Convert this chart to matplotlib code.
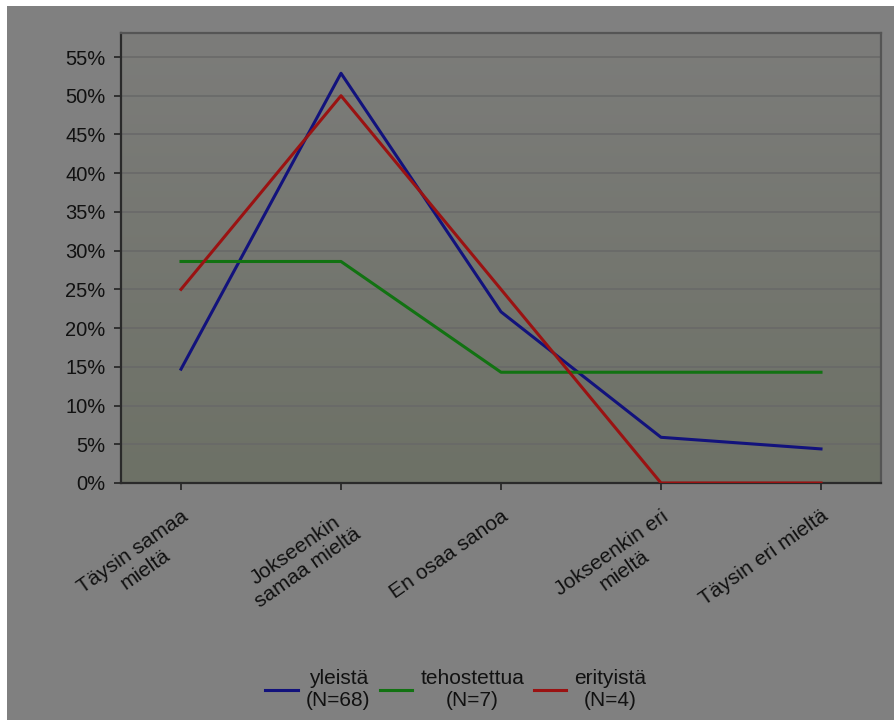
import numpy as np
import matplotlib.pyplot as plt
from matplotlib.patches import Rectangle

plt.rcParams['font.family'] = ['Liberation Sans', 'DejaVu Sans']

categories = ["Täysin samaa\nmieltä", "Jokseenkin\nsamaa mieltä", "En osaa sanoa",
              "Jokseenkin eri\nmieltä", "Täysin eri mieltä"]
yleista = [14.7, 52.9, 22.1, 5.9, 4.4]
tehostettua = [28.6, 28.6, 14.3, 14.3, 14.3]
erityista = [25.0, 50.0, 25.0, 0.0, 0.0]
series_labels = ["yleistä\n(N=68)", "tehostettua\n(N=7)", "erityistä\n(N=4)"]
yticks = list(range(0, 60, 5))

fig = plt.figure(figsize=(8.95, 7.2), dpi=100, facecolor='#808080')
# thin white strip along the top and left edges
fig.patches.append(Rectangle((0, 1 - 6 / 720), 1, 6 / 720, transform=fig.transFigure,
                             facecolor='white', edgecolor='none', zorder=-10))
fig.patches.append(Rectangle((0, 0), 7 / 895, 1, transform=fig.transFigure,
                             facecolor='white', edgecolor='none', zorder=-10))

ax = fig.add_axes([121 / 895, 1 - 483 / 720, 760 / 895, 450 / 720])
ax.set_facecolor('none')

x = np.arange(len(categories))
xlim = (-0.375, 4.375)
ymax = 58.1

# plot-area gradient: neutral gray at the top, greenish gray at the bottom
grad = np.linspace(0, 1, 256).reshape(-1, 1)
top = np.array([0x7c, 0x7c, 0x7a]) / 255
bot = np.array([0x6d, 0x71, 0x66]) / 255
img = top + (bot - top) * grad[..., None]
ax.imshow(img, extent=[xlim[0], xlim[1], 0, ymax], origin='upper', aspect='auto', zorder=0)
ax.set_xlim(*xlim)
ax.set_ylim(0, ymax)

for t in yticks[1:]:
    ax.axhline(t, color='#686868', lw=1.1, zorder=1)

ax.plot(x, yleista, color='#12127c', lw=2.2, label=series_labels[0], zorder=3)
ax.plot(x, tehostettua, color='#127212', lw=2.2, label=series_labels[1], zorder=3)
ax.plot(x, erityista, color='#9a1212', lw=2.2, label=series_labels[2], zorder=3)

ax.set_yticks(yticks)
ax.set_yticklabels([f"{t}%" for t in yticks], fontsize=14.5, color='#111111')
ax.set_xticks(x)
ax.set_xticklabels(categories, rotation=35, ha='right', va='top', rotation_mode='anchor',
                   multialignment='center', fontsize=15, color='#111111')
ax.tick_params(axis='y', length=5, width=1.2, color='#222222', pad=6)
ax.tick_params(axis='x', length=5, width=1.2, color='#222222', pad=12)

for side in ['left', 'bottom']:
    ax.spines[side].set_color('#2a2a2a')
    ax.spines[side].set_linewidth(1.6)
for side in ['top', 'right']:
    ax.spines[side].set_color('#555555')
    ax.spines[side].set_linewidth(1.6)

leg = fig.legend(loc='center', bbox_to_anchor=(456 / 895, 1 - 690 / 720), ncol=3,
                 frameon=False, fontsize=15, handlelength=1.55, columnspacing=0.45,
                 handletextpad=0.4)
for t in leg.get_texts():
    t.set_multialignment('center')
    t.set_color('#111111')

fig.savefig('out.png', dpi=100, facecolor=fig.get_facecolor())
